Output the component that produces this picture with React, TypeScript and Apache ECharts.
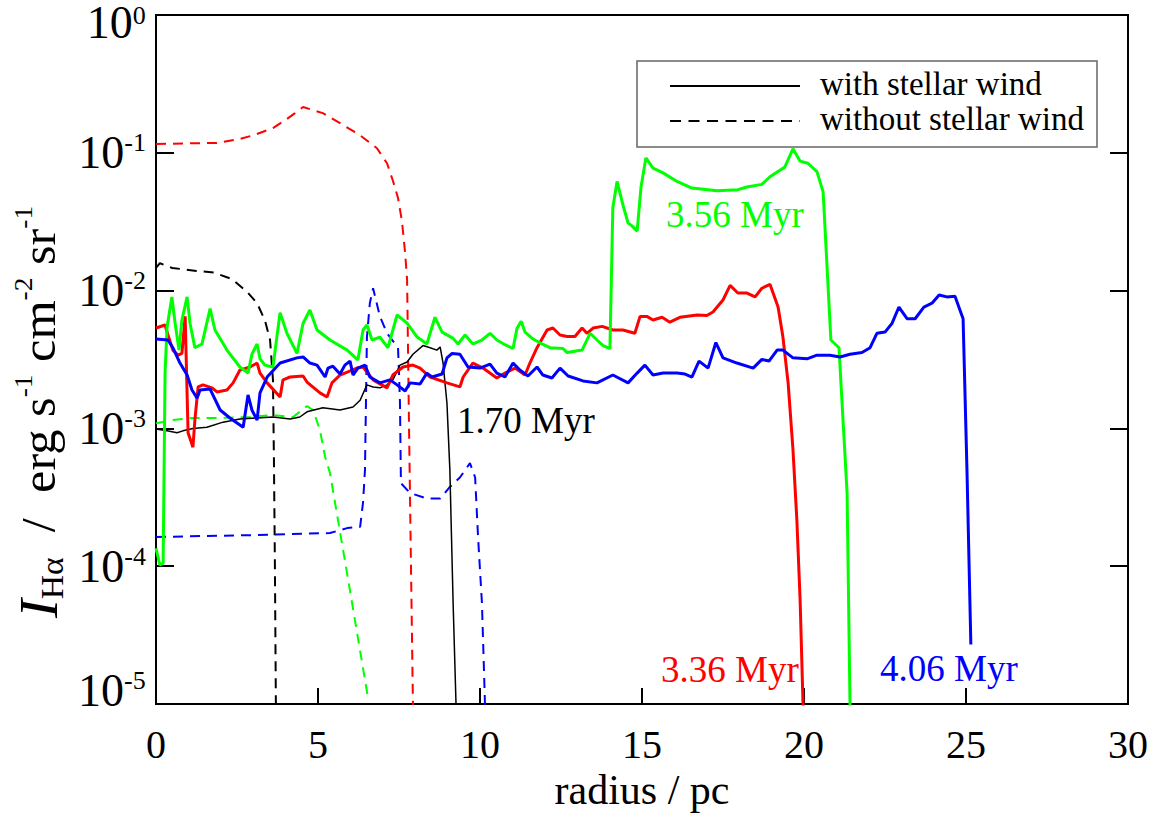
import React, { useEffect, useRef } from "react";
import * as echarts from "echarts";

const FONT = '"Liberation Serif", "Times New Roman", serif';

// x ticks (radius / pc)
const xMin = 0;
const xMax = 30;
const xInterval = 5;
// y range (log)
const yMin = 1e-5;
const yMax = 1;

// ---- with stellar wind (solid) ----
const blackSolidR = [0, 0.34, 0.65, 0.83, 1.14, 1.57, 2.07, 2.59, 3.12, 3.61, 4.14, 4.44, 4.66, 5.15, 5.68, 6.08, 6.3, 6.51, 6.7, 6.91, 7.13, 7.31, 7.53, 7.75, 7.93, 8.24, 8.46, 8.67, 8.77, 8.86, 8.98, 9.07, 9.17, 9.26, 9.29];
const blackSolidI = [9.9e-4, 9.6e-4, 9.3e-4, 9.6e-4, 1.0e-3, 1.02e-3, 1.11e-3, 1.17e-3, 1.19e-3, 1.21e-3, 1.17e-3, 1.21e-3, 1.32e-3, 1.41e-3, 1.36e-3, 1.43e-3, 1.6e-3, 2.07e-3, 2.0e-3, 1.97e-3, 2.07e-3, 2.25e-3, 2.88e-3, 3.03e-3, 3.45e-3, 3.99e-3, 3.85e-3, 3.7e-3, 3.9e-3, 2.98e-3, 1.53e-3, 5.0e-4, 5.4e-5, 1.0e-5, 1e-6];

const redSolidR = [0, 0.28, 0.37, 0.52, 0.68, 0.8, 0.9, 0.99, 1.14, 1.2, 1.3, 1.45, 1.73, 1.88, 2.19, 2.38, 2.59, 2.9, 3.12, 3.21, 3.43, 3.83, 3.92, 4.14, 4.54, 4.66, 5.06, 5.28, 5.43, 5.68, 6.2, 6.39, 6.7, 7.13, 7.31, 7.62, 7.93, 8.15, 8.46, 8.98, 9.38, 9.48, 9.78, 10.09, 10.52, 10.77, 11.08, 11.39, 11.54, 11.76, 12.07, 12.25, 12.47, 12.69, 12.93, 13.15, 13.3, 13.49, 13.77, 14.1, 14.41, 14.78, 14.94, 15.15, 15.34, 15.62, 15.86, 16.17, 16.7, 17.0, 17.19, 17.5, 17.72, 17.96, 18.24, 18.49, 18.7, 18.95, 19.2, 19.35, 19.51, 19.66, 19.78, 19.88, 19.97, 20.0];
const redSolidI = [5.35e-3, 5.63e-3, 4.76e-3, 3.7e-3, 3.4e-3, 3.5e-3, 6.5e-3, 9.3e-4, 7.3e-4, 1.15e-3, 2.0e-3, 2.07e-3, 1.97e-3, 1.84e-3, 1.9e-3, 2.14e-3, 2.65e-3, 2.79e-3, 2.98e-3, 2.52e-3, 2.14e-3, 1.69e-3, 2.25e-3, 2.36e-3, 2.4e-3, 2.17e-3, 1.81e-3, 1.69e-3, 2.14e-3, 2.44e-3, 2.74e-3, 2.79e-3, 2.25e-3, 1.97e-3, 2.44e-3, 2.79e-3, 2.88e-3, 2.74e-3, 2.36e-3, 2.14e-3, 2.0e-3, 2.36e-3, 2.98e-3, 2.74e-3, 2.32e-3, 2.52e-3, 2.74e-3, 2.44e-3, 2.98e-3, 3.85e-3, 5.18e-3, 5.35e-3, 4.76e-3, 4.65e-3, 4.65e-3, 5.35e-3, 4.9e-3, 5.35e-3, 5.5e-3, 5.18e-3, 5.18e-3, 4.9e-3, 6.5e-3, 6.5e-3, 6.12e-3, 6.4e-3, 5.9e-3, 6.4e-3, 6.65e-3, 6.6e-3, 7.0e-3, 8.55e-3, 1.09e-2, 9.6e-3, 9.6e-3, 9.0e-3, 1.04e-2, 1.11e-2, 7.6e-3, 4.6e-3, 2.14e-3, 7.0e-4, 2.16e-4, 5.7e-5, 1.0e-5, 1e-6];

const greenSolidR = [0, 0.12, 0.22, 0.28, 0.34, 0.49, 0.59, 0.71, 0.8, 0.96, 1.05, 1.2, 1.42, 1.67, 1.82, 2.19, 2.59, 2.84, 2.96, 3.12, 3.21, 3.36, 3.61, 3.73, 3.83, 4.04, 4.35, 4.54, 4.75, 4.97, 5.37, 5.9, 6.23, 6.39, 6.51, 6.67, 6.91, 7.16, 7.44, 7.75, 8.06, 8.36, 8.61, 8.83, 9.17, 9.32, 9.54, 9.78, 10.06, 10.31, 10.52, 10.77, 11.02, 11.14, 11.27, 11.39, 11.64, 11.91, 12.16, 12.56, 12.69, 13.15, 13.4, 13.61, 13.8, 14.01, 14.1, 14.23, 14.41, 14.57, 14.69, 14.85, 14.97, 15.12, 15.34, 15.65, 16.08, 16.54, 17.31, 17.96, 18.24, 18.7, 18.95, 19.41, 19.66, 19.88, 20.12, 20.4, 20.59, 20.83, 21.08, 21.33, 21.42, 21.45];
const greenSolidI = [1.35e-4, 1.02e-4, 1.05e-4, 2.52e-3, 5.4e-3, 9.0e-3, 5.8e-3, 3.7e-3, 6.12e-3, 9.0e-3, 5.8e-3, 3.85e-3, 4.1e-3, 7.4e-3, 5.18e-3, 3.7e-3, 2.79e-3, 2.52e-3, 3.45e-3, 4.1e-3, 3.2e-3, 2.88e-3, 2.79e-3, 4.6e-3, 6.9e-3, 4.9e-3, 3.5e-3, 5.8e-3, 7.23e-3, 5.18e-3, 4.38e-3, 3.7e-3, 3.14e-3, 5.18e-3, 5.63e-3, 4.38e-3, 4.6e-3, 3.85e-3, 6.65e-3, 5.8e-3, 4.6e-3, 4.1e-3, 6.4e-3, 5.0e-3, 4.5e-3, 4.1e-3, 4.76e-3, 4.1e-3, 4.38e-3, 4.9e-3, 4.38e-3, 4.05e-3, 3.8e-3, 5.3e-3, 6.0e-3, 5.0e-3, 4.45e-3, 4.1e-3, 3.85e-3, 3.8e-3, 3.55e-3, 3.7e-3, 4.9e-3, 4.38e-3, 3.99e-3, 3.8e-3, 0.04, 0.062, 0.042, 0.031, 0.0295, 0.027, 0.0565, 0.0917, 0.0775, 0.0715, 0.062, 0.0555, 0.053, 0.054, 0.0565, 0.059, 0.067, 0.079, 0.107, 0.087, 0.084, 0.073, 0.052, 4.38e-3, 3.85e-3, 3.4e-4, 1.0e-5, 1e-6];

const blueSolidR = [0, 0.37, 0.52, 0.74, 0.96, 1.11, 1.27, 1.36, 1.67, 1.98, 2.28, 2.59, 2.69, 2.84, 2.96, 3.12, 3.21, 3.43, 3.83, 4.35, 4.54, 4.75, 4.97, 5.22, 5.31, 5.46, 5.68, 5.83, 5.99, 6.08, 6.23, 6.45, 6.6, 6.91, 7.22, 7.44, 7.69, 7.84, 8.15, 8.36, 8.52, 8.83, 8.98, 9.14, 9.38, 9.63, 10.0, 10.31, 10.52, 10.77, 11.02, 11.23, 11.48, 11.76, 11.94, 12.22, 12.47, 12.72, 13.18, 13.61, 14.1, 14.57, 14.85, 15.09, 15.34, 15.65, 16.08, 16.33, 16.54, 16.76, 17.04, 17.28, 17.5, 17.93, 18.43, 18.7, 18.92, 19.17, 19.35, 19.66, 20.09, 20.4, 20.8, 21.11, 21.42, 21.79, 22.04, 22.25, 22.5, 22.72, 22.93, 23.18, 23.43, 23.7, 23.95, 24.17, 24.41, 24.66, 24.91, 25.03, 25.15];
const blueSolidI = [4.45e-3, 4.38e-3, 3.85e-3, 2.98e-3, 2.44e-3, 1.9e-3, 1.66e-3, 1.9e-3, 1.93e-3, 1.36e-3, 1.19e-3, 1.06e-3, 1.02e-3, 1.75e-3, 1.36e-3, 1.15e-3, 1.81e-3, 2.36e-3, 2.98e-3, 3.25e-3, 3.3e-3, 2.98e-3, 2.88e-3, 2.36e-3, 2.74e-3, 2.83e-3, 2.48e-3, 2.88e-3, 3.08e-3, 2.44e-3, 2.74e-3, 2.88e-3, 2.36e-3, 2.14e-3, 2.25e-3, 2.07e-3, 1.87e-3, 2.14e-3, 2.1e-3, 2.52e-3, 2.36e-3, 2.48e-3, 3.25e-3, 3.5e-3, 3.45e-3, 2.79e-3, 2.74e-3, 2.93e-3, 2.52e-3, 2.36e-3, 2.98e-3, 2.65e-3, 2.4e-3, 2.79e-3, 2.44e-3, 2.32e-3, 2.74e-3, 2.4e-3, 2.21e-3, 2.14e-3, 2.44e-3, 2.14e-3, 2.52e-3, 2.88e-3, 2.44e-3, 2.52e-3, 2.52e-3, 2.48e-3, 2.36e-3, 3.08e-3, 2.74e-3, 4.2e-3, 3.25e-3, 2.98e-3, 2.74e-3, 3.17e-3, 3.08e-3, 3.7e-3, 3.7e-3, 3.25e-3, 3.2e-3, 3.4e-3, 3.4e-3, 3.3e-3, 3.45e-3, 3.55e-3, 3.85e-3, 4.9e-3, 5.0e-3, 5.8e-3, 7.6e-3, 6.25e-3, 6.25e-3, 7.6e-3, 8.1e-3, 9.3e-3, 9.0e-3, 9.1e-3, 6.25e-3, 5.0e-4, 2.7e-5];

// ---- without stellar wind (dashed) ----
const blackDashedR = [0, 0.12, 0.5, 1.25, 1.8, 2.35, 2.81, 3.12, 3.36, 3.52, 3.61, 3.64, 3.67, 3.7, 3.71];
const blackDashedI = [0.0146, 0.0158, 0.0146, 0.0139, 0.0135, 0.0121, 0.0098, 0.0081, 0.0061, 0.0044, 0.00225, 5.9e-4, 1e-4, 1e-5, 1e-6];

const redDashedR = [0, 1.88, 2.59, 3.0, 3.61, 4.04, 4.29, 4.54, 5.15, 5.68, 6.3, 6.82, 7.13, 7.31, 7.47, 7.59, 7.69, 7.75, 7.81, 7.87, 7.93, 7.96];
const redDashedI = [0.116, 0.118, 0.126, 0.134, 0.151, 0.176, 0.194, 0.215, 0.194, 0.164, 0.134, 0.108, 0.084, 0.063, 0.047, 0.032, 0.0187, 0.0119, 1e-3, 1e-4, 1e-5, 1e-6];

const greenDashedR = [0, 0.52, 1.14, 1.98, 2.9, 3.61, 4.23, 4.66, 4.85, 5.06, 5.22, 5.37, 5.99, 6.54];
const greenDashedI = [1.09e-3, 1.15e-3, 1.19e-3, 1.19e-3, 1.21e-3, 1.25e-3, 1.21e-3, 1.45e-3, 1.36e-3, 9.7e-4, 6.2e-4, 4.75e-4, 6.6e-5, 1.12e-5];

const blueDashedR = [0, 2.9, 5.37, 5.9, 6.3, 6.39, 6.45, 6.48, 6.51, 6.6, 6.7, 6.91, 7.13, 7.47, 7.5, 7.53, 7.56, 7.84, 8.36, 8.77, 9.07, 9.38, 9.69, 9.85, 9.94, 10.06, 10.15, 10.19];
const blueDashedI = [1.63e-4, 1.68e-4, 1.74e-4, 1.89e-4, 1.93e-4, 2.9e-4, 5.0e-4, 1.53e-3, 4.6e-3, 8.1e-3, 1.04e-2, 6.5e-3, 4.9e-3, 3.85e-3, 2.52e-3, 1.53e-3, 4.0e-4, 3.4e-4, 3.1e-4, 3.1e-4, 3.76e-4, 4.4e-4, 5.6e-4, 4.4e-4, 1.63e-4, 5.4e-5, 1.07e-5, 1e-6];

const ageLabels = ["1.70 Myr", "3.36 Myr", "3.56 Myr", "4.06 Myr"];
const legendLabels = ["with stellar wind", "without stellar wind"];

const RED = "#ff0000";
const GREEN = "#00ff00";
const BLUE = "#0000ff";
const BLACK = "#000000";

function zip(r: number[], v: number[]) {
  return r.map((x, i) => [x, v[i]]);
}

export default function App() {
  const ref = useRef<HTMLDivElement | null>(null);

  useEffect(() => {
    if (!ref.current) return;
    const chart = echarts.init(ref.current, null, { renderer: "svg" });

    const solid = (name: string, color: string, r: number[], v: number[], w: number) => ({
      type: "line",
      name,
      data: zip(r, v),
      showSymbol: false,
      symbol: "none",
      clip: true,
      z: 3,
      lineStyle: { color, width: w, type: "solid" },
      itemStyle: { color },
    });
    const dashed = (name: string, color: string, r: number[], v: number[]) => ({
      type: "line",
      name,
      data: zip(r, v),
      showSymbol: false,
      symbol: "none",
      clip: true,
      z: 2,
      lineStyle: { color, width: 2, type: [10, 7] },
      itemStyle: { color },
    });

    const label = (text: string, x: number, y: number, color: string, size: number) => ({
      type: "text",
      x,
      y,
      z: 10,
      style: {
        text,
        fill: color,
        fontSize: size,
        fontFamily: FONT,
        textAlign: "left",
        textVerticalAlign: "middle",
        align: "left",
        verticalAlign: "middle",
      },
    });

    const eMin = Math.round(Math.log10(yMin));
    const eMax = Math.round(Math.log10(yMax));
    const tk = { fontFamily: FONT, color: "#000" };

    chart.setOption({
      animation: false,
      backgroundColor: "#fff",
      grid: {
        left: 156,
        top: 15,
        width: 972,
        height: 689,
        show: true,
        borderColor: "#000",
        borderWidth: 2,
        backgroundColor: "transparent",
        containLabel: false,
        outerBoundsMode: "none",
      },
      xAxis: {
        type: "value",
        min: xMin,
        max: xMax,
        interval: xInterval,
        name: "radius / pc",
        nameLocation: "middle",
        nameGap: 64,
        nameTextStyle: { fontFamily: FONT, fontSize: 42, color: "#000" },
        axisLine: { show: true, lineStyle: { color: "#000", width: 2 } },
        axisTick: { show: true, inside: true, length: 16, lineStyle: { color: "#000", width: 2 } },
        axisLabel: { fontFamily: FONT, color: "#000", fontSize: 40, margin: 20 },
        splitLine: { show: false },
      },
      yAxis: [
        {
          type: "log",
          logBase: 10,
          min: yMin,
          max: yMax,
          splitNumber: 5,
          axisLine: { show: true, lineStyle: { color: "#000", width: 2 } },
          axisTick: { show: true, inside: true, length: 18, lineStyle: { color: "#000", width: 2 } },
          minorTick: { show: false },
          splitLine: { show: false },
          axisLabel: {
            fontFamily: FONT,
            color: "#000",
            margin: 10,
            formatter: (v: number) => {
              const e = Math.round(Math.log10(v));
              if (e === eMax) return "{bt|10}{st|" + e + "}{zt| }";
              if (e === eMin) return "{bb|10}{sb|" + e + "}{zb| }";
              return "{b|10}{s|" + e + "}";
            },
            rich: {
              b: { ...tk, fontSize: 46, lineHeight: 46 },
              s: { ...tk, fontSize: 26, lineHeight: 33, verticalAlign: "top" },
              bt: { ...tk, fontSize: 46, lineHeight: 46, verticalAlign: "bottom" },
              st: { ...tk, fontSize: 26, lineHeight: 26 },
              zt: { ...tk, fontSize: 1, lineHeight: 60 },
              bb: { ...tk, fontSize: 46, lineHeight: 46, verticalAlign: "top" },
              sb: { ...tk, fontSize: 26, lineHeight: 24, verticalAlign: "top" },
              zb: { ...tk, fontSize: 1, lineHeight: 74 },
            },
          },
        },
        {
          type: "log",
          logBase: 10,
          min: yMin,
          max: yMax,
          splitNumber: 5,
          position: "right",
          axisLine: { show: true, lineStyle: { color: "#000", width: 2 } },
          axisTick: { show: true, inside: true, length: 18, lineStyle: { color: "#000", width: 2 } },
          axisLabel: { show: false },
          splitLine: { show: false },
        },
      ],
      series: [
        dashed("black no wind", BLACK, blackDashedR, blackDashedI),
        dashed("red no wind", RED, redDashedR, redDashedI),
        dashed("green no wind", GREEN, greenDashedR, greenDashedI),
        dashed("blue no wind", BLUE, blueDashedR, blueDashedI),
        solid("1.70 Myr", BLACK, blackSolidR, blackSolidI, 1.5),
        solid("3.36 Myr", RED, redSolidR, redSolidI, 3),
        solid("3.56 Myr", GREEN, greenSolidR, greenSolidI, 3),
        solid("4.06 Myr", BLUE, blueSolidR, blueSolidI, 3),
      ],
      graphic: [
        {
          type: "text",
          x: 39,
          y: 412,
          rotation: Math.PI / 2,
          scaleX: 1.05,
          z: 10,
          style: {
            text: "{i|I}{sub|Hα}{n|  /  erg s}{sup|-1}{n| cm}{sup|-2}{n| sr}{sup|-1}",
            fontFamily: FONT,
            fontSize: 48,
            fill: "#000",
            textAlign: "center",
            textVerticalAlign: "middle",
            align: "center",
            verticalAlign: "middle",
            rich: {
              i: { fontFamily: FONT, fontSize: 54, fontStyle: "italic", fill: "#000", lineHeight: 58 },
              sub: { fontFamily: FONT, fontSize: 32, fill: "#000", lineHeight: 32, verticalAlign: "bottom" },
              n: { fontFamily: FONT, fontSize: 48, fill: "#000", lineHeight: 58 },
              sup: { fontFamily: FONT, fontSize: 26, fill: "#000", lineHeight: 26, verticalAlign: "top" },
            },
          },
        },
        label(ageLabels[0], 457, 420, BLACK, 37),
        label(ageLabels[1], 661, 669, RED, 37),
        label(ageLabels[2], 666, 214, GREEN, 37),
        label(ageLabels[3], 880, 668, BLUE, 37),
        {
          type: "rect",
          z: 9,
          shape: { x: 637, y: 61, width: 460, height: 86 },
          style: { fill: "#fff", stroke: "#666", lineWidth: 1.5 },
        },
        {
          type: "line",
          z: 10,
          shape: { x1: 670, y1: 86, x2: 800, y2: 86 },
          style: { stroke: "#000", lineWidth: 2 },
        },
        {
          type: "line",
          z: 10,
          shape: { x1: 670, y1: 121, x2: 800, y2: 121 },
          style: { stroke: "#000", lineWidth: 2, lineDash: [11, 7.5] },
        },
        label(legendLabels[0], 820, 84, BLACK, 33),
        label(legendLabels[1], 820, 119, BLACK, 33),
      ],
    });

    return () => chart.dispose();
  }, []);

  return (
    <div
      ref={ref}
      style={{ position: "fixed", left: 0, top: 0, width: 1158, height: 820, background: "#fff" }}
    />
  );
}
